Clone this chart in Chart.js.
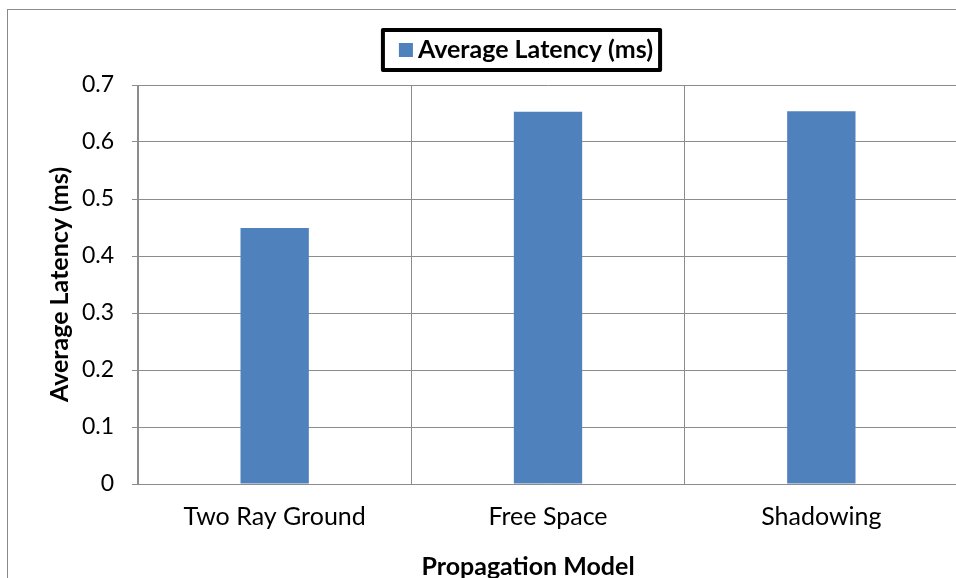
<!DOCTYPE html>
<html>
<head>
<meta charset="utf-8">
<script src="https://cdn.jsdelivr.net/npm/chart.js@4/dist/chart.umd.min.js"></script>
<style>
  html, body { margin: 0; padding: 0; background: #ffffff; overflow: hidden; width: 956px; height: 578px; }
  #frame { position: absolute; left: 7px; top: 9px; width: 1040px; height: 600px; border: 1px solid #8a8a8a; background: #fff; }
  #frame canvas { display: block; }
</style>
</head>
<body>
<div id="frame"><canvas id="chart" width="1040" height="600"></canvas></div>
<script>
// Propagation models and their measured average latency
const categories = ['Two Ray Ground', 'Free Space', 'Shadowing'];
const latencyMs = [0.449, 0.653, 0.654];
const seriesName = 'Average Latency (ms)';
const yTickLabels = ['0', '0.1', '0.2', '0.3', '0.4', '0.5', '0.6', '0.7'];

const FONT = 'Lato';
const BAR_BLUE = '#4f81bd';
const GRID_GREY = '#8c8c8c';

// Boxed legend drawn above the plot
const boxedLegend = {
  id: 'boxedLegend',
  afterDraw(chart) {
    const ctx = chart.ctx;
    const ds = chart.data.datasets[0];
    ctx.save();
    ctx.font = 'bold 25px ' + FONT;
    const tw = ctx.measureText(ds.label).width;
    const sw = 14, gap = 5, padL = 16, padR = 7;
    const w = padL + sw + gap + tw + padR;
    const h = 40;
    const cx = 513.5, cy = 40;
    const x0 = cx - w / 2, y0 = cy - h / 2;
    ctx.lineWidth = 4;
    ctx.lineJoin = 'round';
    ctx.strokeStyle = '#000';
    ctx.strokeRect(x0, y0, w, h);
    ctx.fillStyle = ds.backgroundColor;
    ctx.fillRect(x0 + padL, cy - sw / 2, sw, sw);
    ctx.fillStyle = '#000';
    ctx.textBaseline = 'middle';
    ctx.textAlign = 'left';
    ctx.fillText(ds.label, x0 + padL + sw + gap, cy);
    ctx.restore();
  }
};

new Chart(document.getElementById('chart'), {
  type: 'bar',
  data: {
    labels: categories,
    datasets: [{
      label: seriesName,
      data: latencyMs,
      backgroundColor: BAR_BLUE,
      borderWidth: 0,
      categoryPercentage: 1.0,
      barPercentage: 0.25
    }]
  },
  options: {
    responsive: false,
    animation: false,
    devicePixelRatio: 1,
    layout: { padding: { top: 75, left: 0, right: 0, bottom: 0 } },
    plugins: {
      legend: { display: false },
      tooltip: { enabled: false },
      title: {
        display: true,
        position: 'bottom',
        text: 'Propagation Model',
        color: '#000',
        font: { family: FONT, size: 25, weight: 'bold' },
        padding: { top: 8, bottom: 28 }
      }
    },
    scales: {
      x: {
        grid: { display: true, offset: true, color: GRID_GREY, lineWidth: 1, drawTicks: false },
        border: { display: true, color: GRID_GREY },
        ticks: { color: '#000', font: { family: FONT, size: 25 }, padding: 18, maxRotation: 0 },
        afterFit(scale) { scale.height = 60; }
      },
      y: {
        position: 'left',
        min: 0,
        max: 0.7,
        ticks: {
          stepSize: 0.1,
          color: '#000',
          font: { family: FONT, size: 23 },
          padding: 18,
          callback: (value, index) => yTickLabels[index]
        },
        grid: { color: GRID_GREY, lineWidth: 1, drawTicks: true, tickLength: 6 },
        border: { display: true, color: GRID_GREY },
        title: {
          display: true,
          text: seriesName,
          color: '#000',
          font: { family: FONT, size: 25, weight: 'bold' },
          padding: { top: 37, bottom: 0 }
        },
        afterFit(scale) { scale.width = 130; }
      },
      gutter: {
        type: 'linear',
        position: 'right',
        display: true,
        grid: { display: false, drawTicks: false },
        border: { display: false },
        ticks: { display: false },
        afterFit(scale) { scale.width = 90; }
      }
    }
  },
  plugins: [boxedLegend]
});
</script>
</body>
</html>
